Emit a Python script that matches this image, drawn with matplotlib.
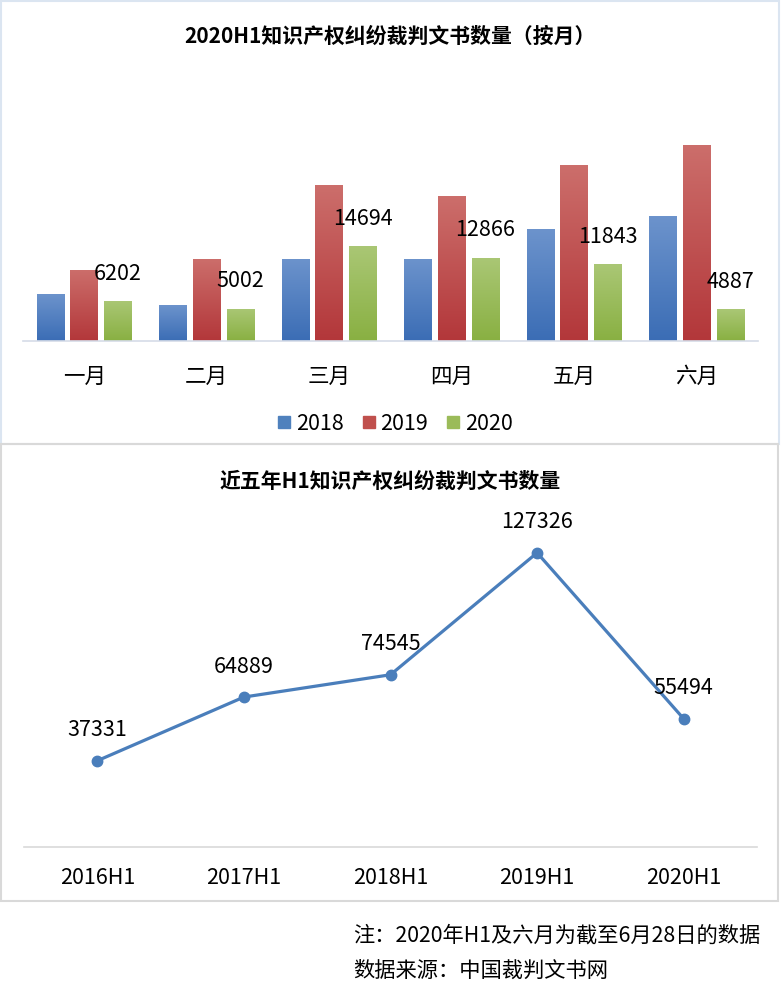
import matplotlib
matplotlib.use('Agg')
import matplotlib.pyplot as plt
import matplotlib.patches as patches
from matplotlib.colors import LinearSegmentedColormap
from matplotlib.lines import Line2D
import numpy as np

plt.rcParams['font.family'] = ['Noto Sans CJK SC', 'DejaVu Sans']

# 数据
months = ['一月', '二月', '三月', '四月', '五月', '六月']
series_names = ['2018', '2019', '2020']
v2018 = [7200, 5500, 12700, 12700, 17200, 19245]
v2019 = [11000, 12700, 24000, 22300, 27100, 30226]
v2020 = [6202, 5002, 14694, 12866, 11843, 4887]

halves = ['2016H1', '2017H1', '2018H1', '2019H1', '2020H1']
h1_totals = [37331, 64889, 74545, 127326, 55494]

# 颜色 (Excel风格渐变)
grad_colors = [('#6c93cc', '#3b6db5'), ('#cc6e6b', '#b3373a'), ('#aac775', '#89b042')]
legend_colors = ['#4f81bd', '#c0504d', '#9bbb59']
line_color = '#4a7ebb'

W, H = 781, 997
fig = plt.figure(figsize=(W / 100, H / 100), dpi=100, facecolor='white')


def fx(px):
    return px / W


def fy(py):
    return 1 - py / H


# 面板边框
fig.patches.append(patches.Rectangle((fx(1), fy(444)), fx(778), 443 / H, transform=fig.transFigure,
                                     facecolor='none', edgecolor='#dbe5f1', linewidth=1.5))
fig.patches.append(patches.Rectangle((fx(1), fy(901)), fx(777), 457 / H, transform=fig.transFigure,
                                     facecolor='none', edgecolor='#d9d9d9', linewidth=1.5))

# --- 上图：柱状图 ---
ax1 = fig.add_axes([fx(23), fy(341), fx(735), 227 / H])
x = np.arange(len(months))
step = 0.274
width = 0.225
grad = np.linspace(1, 0, 100).reshape(-1, 1)
for i, vals in enumerate([v2018, v2019, v2020]):
    bars = ax1.bar(x + (i - 1) * step, vals, width, color='none', edgecolor='none')
    cmap = LinearSegmentedColormap.from_list('g%d' % i, [grad_colors[i][1], grad_colors[i][0]])
    for b in bars:
        x0, y0 = b.get_x(), b.get_y()
        im = ax1.imshow(grad, extent=[x0, x0 + b.get_width(), y0, y0 + b.get_height()],
                        aspect='auto', cmap=cmap, vmin=0, vmax=1, origin='upper', zorder=2)
        im.set_clip_path(b)

for xi, v in zip(x + step, v2020):
    ax1.annotate(str(v), xy=(xi, v), xytext=(0, 19.5), textcoords='offset points',
                 ha='center', va='center', fontsize=15.5, color='black', zorder=5)

ax1.set_xlim(-0.5, 5.5)
ax1.set_ylim(0, 35000)
ax1.set_xticks(x)
ax1.set_xticklabels(months, fontsize=15.5)
ax1.tick_params(axis='x', length=0, pad=18)
ax1.set_yticks([])
for s in ['top', 'left', 'right']:
    ax1.spines[s].set_visible(False)
ax1.spines['bottom'].set_color('#d5dce8')
ax1.spines['bottom'].set_linewidth(1.2)
ax1.patch.set_alpha(0)

fig.text(fx(390), fy(36), '2020H1知识产权纠纷裁判文书数量（按月）', ha='center', va='center',
         fontsize=15, fontweight='bold')

handles = [Line2D([], [], marker='s', linestyle='none', markersize=9, color=c) for c in legend_colors]
fig.legend(handles, series_names, loc='center', bbox_to_anchor=(fx(394), fy(424)), ncol=3,
           frameon=False, fontsize=15.5, handletextpad=0.15, columnspacing=0.75, handlelength=0.8)

# --- 下图：折线图 ---
ax2 = fig.add_axes([fx(24), fy(847), fx(733), 323.5 / H])
xl = np.arange(len(halves))
ax2.plot(xl, h1_totals, color=line_color, linewidth=2.3, marker='o', markersize=7.5, zorder=3)
for xi, v in zip(xl, h1_totals):
    ax2.annotate(str(v), xy=(xi, v), xytext=(0, 22), textcoords='offset points',
                 ha='center', va='center', fontsize=15.5, color='black')
ax2.set_xlim(-0.5, 4.5)
ax2.set_ylim(0, 140000)
ax2.set_xticks(xl)
ax2.set_xticklabels(halves, fontsize=15.5)
ax2.tick_params(axis='x', length=0, pad=14.5)
ax2.set_yticks([])
for s in ['top', 'left', 'right']:
    ax2.spines[s].set_visible(False)
ax2.spines['bottom'].set_color('#d9d9d9')
ax2.spines['bottom'].set_linewidth(1.2)
ax2.patch.set_alpha(0)

fig.text(fx(390), fy(481), '近五年H1知识产权纠纷裁判文书数量', ha='center', va='center',
         fontsize=15, fontweight='bold')

# 注释
fig.text(fx(353), fy(936), '注：2020年H1及六月为截至6月28日的数据', ha='left', va='center', fontsize=15.3)
fig.text(fx(353), fy(971), '数据来源：中国裁判文书网', ha='left', va='center', fontsize=15.3)

fig.savefig('out.png', dpi=100, facecolor='white')
